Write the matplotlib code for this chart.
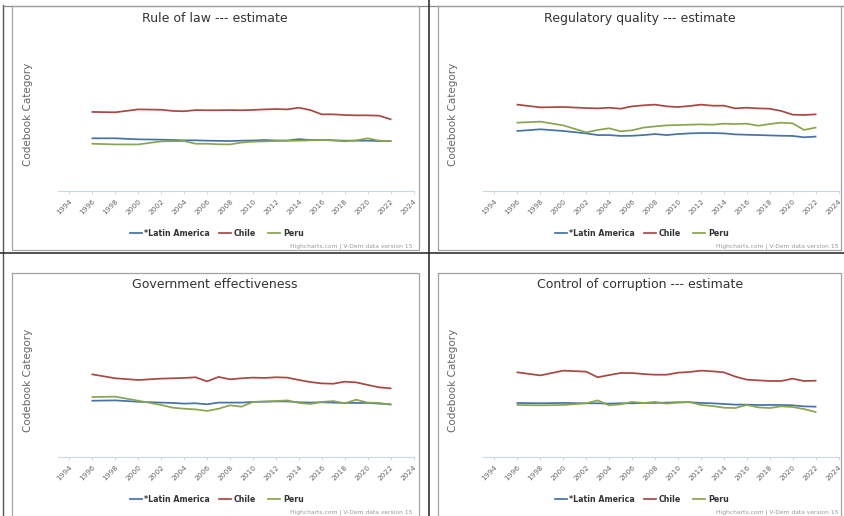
import matplotlib
matplotlib.use("Agg")
import matplotlib.pyplot as plt

plt.rcParams['font.family'] = ['DejaVu Sans']

# ---------------- data ----------------
years = [1996, 1998, 2000] + list(range(2002, 2023))
series_names = ["*Latin America", "Chile", "Peru"]
series_colors = ["#4572A7", "#AA4643", "#89A54E"]

titles = ["Rule of law --- estimate", "Regulatory quality --- estimate",
          "Government effectiveness", "Control of corruption --- estimate"]

rl_latam = [-0.40, -0.40, -0.46, -0.48, -0.50, -0.52, -0.52, -0.54, -0.55, -0.56, -0.54, -0.53,
            -0.50, -0.53, -0.53, -0.45, -0.50, -0.50, -0.52, -0.54, -0.54, -0.54, -0.56, -0.56]
rl_chile = [1.15, 1.13, 1.30, 1.28, 1.21, 1.19, 1.26, 1.25, 1.25, 1.26, 1.25, 1.27,
            1.30, 1.32, 1.30, 1.40, 1.26, 1.01, 1.01, 0.97, 0.95, 0.95, 0.93, 0.72]
rl_peru = [-0.72, -0.76, -0.76, -0.58, -0.57, -0.56, -0.72, -0.72, -0.75, -0.76, -0.65, -0.60,
           -0.58, -0.56, -0.55, -0.54, -0.52, -0.50, -0.52, -0.58, -0.52, -0.40, -0.54, -0.56]

rq_latam = [0.03, 0.13, 0.03, -0.11, -0.21, -0.21, -0.26, -0.25, -0.21, -0.15, -0.21, -0.15,
            -0.11, -0.09, -0.09, -0.11, -0.17, -0.19, -0.21, -0.23, -0.25, -0.26, -0.34, -0.30]
rq_chile = [1.58, 1.42, 1.44, 1.38, 1.36, 1.40, 1.34, 1.48, 1.54, 1.58, 1.48, 1.44,
            1.50, 1.58, 1.52, 1.52, 1.36, 1.40, 1.36, 1.34, 1.21, 0.99, 0.97, 1.01]
rq_peru = [0.52, 0.58, 0.36, -0.05, 0.09, 0.19, 0.01, 0.07, 0.23, 0.30, 0.36, 0.38,
           0.40, 0.42, 0.40, 0.46, 0.44, 0.46, 0.34, 0.44, 0.52, 0.48, 0.09, 0.23]

ge_latam = [-0.19, -0.17, -0.25, -0.30, -0.32, -0.36, -0.34, -0.40, -0.30, -0.30, -0.30, -0.26,
            -0.25, -0.23, -0.23, -0.28, -0.30, -0.28, -0.30, -0.32, -0.32, -0.32, -0.36, -0.40]
ge_chile = [1.36, 1.13, 1.03, 1.11, 1.13, 1.15, 1.19, 0.95, 1.21, 1.07, 1.13, 1.17,
            1.15, 1.19, 1.17, 1.03, 0.91, 0.83, 0.81, 0.93, 0.89, 0.74, 0.60, 0.54]
ge_peru = [0.03, 0.05, -0.19, -0.44, -0.60, -0.66, -0.70, -0.79, -0.66, -0.46, -0.54, -0.26,
           -0.23, -0.21, -0.17, -0.32, -0.38, -0.26, -0.21, -0.34, -0.13, -0.30, -0.32, -0.42]

cc_latam = [-0.32, -0.34, -0.32, -0.34, -0.34, -0.36, -0.34, -0.34, -0.32, -0.32, -0.30, -0.28,
            -0.28, -0.32, -0.34, -0.38, -0.42, -0.42, -0.44, -0.44, -0.44, -0.46, -0.52, -0.54]
cc_chile = [1.48, 1.30, 1.58, 1.52, 1.19, 1.32, 1.44, 1.44, 1.38, 1.34, 1.34, 1.46,
            1.50, 1.58, 1.54, 1.48, 1.23, 1.05, 1.01, 0.97, 0.97, 1.11, 0.97, 0.99]
cc_peru = [-0.44, -0.46, -0.44, -0.34, -0.17, -0.46, -0.40, -0.26, -0.32, -0.26, -0.36, -0.30,
           -0.26, -0.44, -0.50, -0.60, -0.62, -0.44, -0.58, -0.62, -0.52, -0.56, -0.68, -0.85]

tick_years = list(range(1994, 2025, 2))
y_label = "Codebook Category"
credits = "Highcharts.com | V-Dem data version 15"

panels_data = [
    (rl_latam, rl_chile, rl_peru),
    (rq_latam, rq_chile, rq_peru),
    (ge_latam, ge_chile, ge_peru),
    (cc_latam, cc_chile, cc_peru),
]

# ---------------- layout ----------------
W, H = 844, 516
fig = plt.figure(figsize=(W / 100, H / 100), dpi=100)
fig.patch.set_facecolor("white")

ov = fig.add_axes([0, 0, 1, 1], zorder=0)
ov.set_xlim(0, W)
ov.set_ylim(H, 0)
ov.axis("off")
ov.patch.set_alpha(0)

def px_rect(x0, y0, x1, y1):
    return [x0 / W, 1 - y1 / H, (x1 - x0) / W, (y1 - y0) / H]

# screenshot separators / frames
ov.plot([3, 3], [5, H], color="#555555", lw=1.0)
ov.plot([3, 844], [5.5, 5.5], color="#8a8a8a", lw=0.9)
ov.plot([428.5, 428.5], [0, H], color="#222222", lw=1.1)
ov.plot([0, W], [252.5, 252.5], color="#222222", lw=1.1)

offsets = [(0, 0), (425, 0), (0, 266), (425, 266)]
panel_boxes = [(12, 5.5, 419, 249.5), (437.5, 5.5, 841, 249.5),
               (12, 273, 419, 530), (437.5, 273, 841, 530)]

for i, (dx, dy) in enumerate(offsets):
    bx0, by0, bx1, by1 = panel_boxes[i]
    ov.plot([bx0, bx1, bx1, bx0, bx0], [by0, by0, by1, by1, by0], color="#a3a3a3", lw=0.9)

    ax = fig.add_axes(px_rect(58 + dx, 38 + dy, 413.5 + dx, 191 + dy), zorder=2)
    ax.patch.set_alpha(0)
    for name, vals, col in zip(series_names, panels_data[i], series_colors):
        ax.plot(years, vals, color=col, lw=1.25, solid_joinstyle="round")
    ax.set_xlim(1993, 2024)
    ax.set_ylim(-3.5, 5.5)
    for s in ["left", "right", "top"]:
        ax.spines[s].set_visible(False)
    ax.spines["bottom"].set_color("#ccd6eb")
    ax.spines["bottom"].set_linewidth(0.8)
    ax.set_yticks([])
    ax.set_xticks(tick_years)
    ax.set_xticklabels([str(t) for t in tick_years], rotation=45, ha="right",
                       rotation_mode="anchor", fontsize=5.3, color="#666666")
    ax.tick_params(axis="x", length=2.4, width=0.7, color="#ccd6eb", pad=2.5)

    ov.text(215 + dx, 18.5 + dy, titles[i], ha="center", va="center",
            fontsize=9.0, color="#333333")
    ov.text(28 + dx, 114 + dy, y_label, rotation=90, ha="center", va="center",
            fontsize=7.5, color="#666666")
    sym_x = [130, 219, 268]
    txt_x = [144, 234, 283]
    ly = 233 + dy
    for name, col, sx, tx in zip(series_names, series_colors, sym_x, txt_x):
        ov.plot([sx + dx, sx + 12 + dx], [ly, ly], color=col, lw=1.25)
        ov.text(tx + dx, ly + 0.3, name, ha="left", va="center", fontsize=5.7,
                fontweight="bold", color="#333333")
    ov.text(413 + dx, 246 + dy, credits, ha="right", va="center",
            fontsize=4.3, color="#999999")

fig.savefig("out.png", dpi=100, facecolor="white")
